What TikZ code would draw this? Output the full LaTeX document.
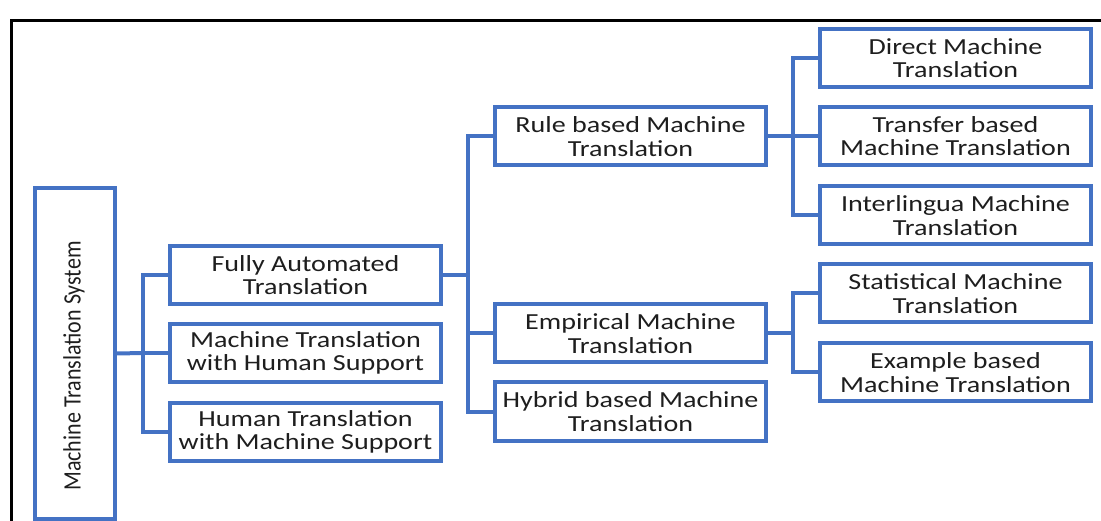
\documentclass[tikz,border=0pt]{standalone}
\usepackage{fontspec}
\setmainfont{Carlito}
\newfontfamily\boxfont[FakeStretch=1.22]{Carlito}
\newfontfamily\sidefont[FakeStretch=0.88]{Carlito}
\definecolor{boxblue}{RGB}{68,114,196}
\definecolor{txt}{RGB}{30,30,30}
\begin{document}
\begin{tikzpicture}[x=1pt,y=-1pt,
  box/.style={draw=boxblue, line width=4pt, fill=white, minimum width=271pt, minimum height=58pt,
    align=center, inner sep=0pt, text=txt, font=\boxfont\fontsize{23}{23.5}\selectfont},
  link/.style={draw=boxblue, line width=4pt}]
\useasboundingbox (0,0) rectangle (1101,521);
% outer frame
\draw[line width=2.5pt, black] (11.3,522) -- (11.3,20.3) -- (1102,20.3);
% root box
\node[draw=boxblue, line width=4pt, minimum width=80pt, minimum height=330pt, inner sep=0pt] (mts) at (75,353.5) {};
\node[rotate=90, text=txt, font=\sidefont\fontsize{25}{26}\selectfont, inner sep=0pt] (mtslabel) at (74,366) {Machine Translation System};
% level 2
\node[box] (fat)  at (305.5,275)  {Fully Automated\\Translation};
\node[box] (mths) at (305.5,353)  {Machine Translation\\with Human Support};
\node[box] (htms) at (305.5,432)  {Human Translation\\with Machine Support};
% level 3
\node[box] (rb)  at (630.5,136.5) {Rule based Machine\\Translation};
\node[box] (emp) at (630.5,333.5) {Empirical Machine\\Translation};
\node[box] (hyb) at (630.5,411.5) {Hybrid based Machine\\Translation};
% level 4
\node[box] (dir) at (955.5,58)    {Direct Machine\\Translation};
\node[box] (tra) at (955.5,136)   {Transfer based\\Machine Translation};
\node[box] (int) at (955.5,215.5) {Interlingua Machine\\Translation};
\node[box] (sta) at (955.5,293.5) {Statistical Machine\\Translation};
\node[box] (exa) at (955.5,372.5) {Example based\\Machine Translation};
% buses
\coordinate (b1) at (143,353);
\coordinate (b2) at (468,275);
\coordinate (b3) at (793,136.5);
\coordinate (b4) at (793,333.5);
\draw[link] (mts.east) -- (b1);
\draw[link] (b1) |- (fat.west);
\draw[link] (b1) |- (mths.west);
\draw[link] (b1) |- (htms.west);
\draw[link] (fat.east) -- (b2);
\draw[link] (b2) |- (rb.west);
\draw[link] (b2) |- (emp.west);
\draw[link] (b2) |- (hyb.west);
\draw[link] (rb.east) -- (b3);
\draw[link] (b3) |- (dir.west);
\draw[link] (b3) |- (tra.west);
\draw[link] (b3) |- (int.west);
\draw[link] (emp.east) -- (b4);
\draw[link] (b4) |- (sta.west);
\draw[link] (b4) |- (exa.west);
\end{tikzpicture}
\end{document}
